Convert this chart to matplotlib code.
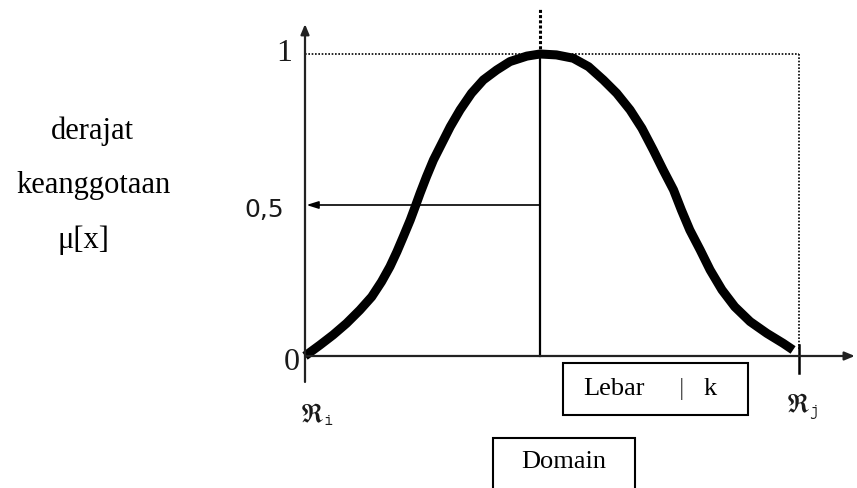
import matplotlib
matplotlib.use('Agg')
import matplotlib.pyplot as plt
from matplotlib.patches import Rectangle

# bell-shaped membership curve (domain scaled 0..1 between Ri and Rj)
x_curve = [0.0, 0.030, 0.057, 0.084, 0.111, 0.135, 0.155, 0.172, 0.186, 0.199, 0.213, 0.223,
           0.233, 0.246, 0.260, 0.277, 0.294, 0.314, 0.337, 0.361, 0.388, 0.415, 0.449, 0.476,
           0.509, 0.543, 0.574, 0.604, 0.631, 0.658, 0.682, 0.705, 0.725, 0.746, 0.762, 0.779,
           0.800, 0.820, 0.844, 0.870, 0.901, 0.935, 0.968, 0.988]
mu_curve = [0.0, 0.036, 0.070, 0.108, 0.152, 0.196, 0.246, 0.296, 0.345, 0.395, 0.450, 0.494,
            0.539, 0.594, 0.649, 0.704, 0.759, 0.815, 0.870, 0.914, 0.947, 0.975, 0.993, 1.0,
            0.997, 0.986, 0.958, 0.914, 0.870, 0.815, 0.754, 0.682, 0.616, 0.550, 0.483, 0.417,
            0.351, 0.285, 0.219, 0.163, 0.114, 0.075, 0.042, 0.020]
peak_x = 0.475
half_mu = 0.5
ytick_vals = [0, 0.5, 1]
ytick_labels = ['0', '0,5', '1']
ylabel_lines = ['derajat', 'keanggotaan', 'μ[x]']
ri_label = r'$\mathfrak{R}_{\mathtt{i}}$'
rj_label = r'$\mathfrak{R}_{\mathtt{j}}$'

serif = 'Liberation Serif'

fig = plt.figure(figsize=(8.57, 4.88), dpi=100)
ax = fig.add_axes([0, 0, 1, 1])
ax.set_xlim(-0.6174, 1.1174)
ax.set_ylim(-0.4371, 1.1788)
ax.axis('off')

# axes with arrows
ax.annotate('', xy=(0, 1.099), xytext=(0, -0.086),
            arrowprops=dict(arrowstyle='-|>,head_length=0.6,head_width=0.25', color='#222222', lw=1.6, shrinkA=0, shrinkB=0))
ax.annotate('', xy=(1.113, 0), xytext=(0, 0),
            arrowprops=dict(arrowstyle='-|>,head_length=0.6,head_width=0.25', color='#222222', lw=1.6, shrinkA=0, shrinkB=0))
ax.plot([1, 1], [0.036, -0.056], color='k', lw=1.8)

# dotted guides
ax.plot([0, 1], [1, 1], color='k', lw=1.2, linestyle=(0, (1, 1)))
ax.plot([1, 1], [1, 0.02], color='k', lw=1.2, linestyle=(0, (1, 1)))
ax.plot([peak_x, peak_x], [1, 1.152], color='k', lw=2.2, linestyle=(0, (1, 0.7)))

# solid line under peak and arrow at 0.5
ax.plot([peak_x, peak_x], [0, 1], color='k', lw=1.6)
ax.annotate('', xy=(0.003, half_mu), xytext=(peak_x, half_mu),
            arrowprops=dict(arrowstyle='-|>,head_length=0.7,head_width=0.22', color='k', lw=1.2, shrinkA=0, shrinkB=0))

ax.plot(x_curve, mu_curve, color='k', lw=6.5, solid_capstyle='butt', solid_joinstyle='round')

# tick labels
ax.text(-0.0425, ytick_vals[2], ytick_labels[2], family=serif, fontsize=23, ha='center', va='center', color='#1a1a1a')
ax.text(-0.026, ytick_vals[0] - 0.02, ytick_labels[0], family=serif, fontsize=23, ha='center', va='center', color='#1a1a1a')
ax.text(-0.083, ytick_vals[1] - 0.017, ytick_labels[1], family='DejaVu Sans', fontsize=18, ha='center', va='center', color='#1a1a1a')

# y label (three lines)
ax.text(-0.431, 0.720, ylabel_lines[0], family=serif, fontsize=22, ha='center', va='baseline')
ax.text(-0.429, 0.540, ylabel_lines[1], family=serif, fontsize=22, ha='center', va='baseline')
ax.text(-0.449, 0.358, ylabel_lines[2], family=serif, fontsize=22, ha='center', va='baseline')

# Ri, Rj
ax.text(0.024, -0.195, ri_label, fontsize=19, ha='center', va='center', math_fontfamily='stix', color='#1a1a1a')
ax.text(1.006, -0.169, rj_label, fontsize=19, ha='center', va='center', math_fontfamily='stix', color='#1a1a1a')

# boxes
ax.add_patch(Rectangle((0.522, -0.195), 0.375, 0.172, fill=False, ec='k', lw=1.5))
ax.text(0.6255, -0.11, 'Lebar', family=serif, fontsize=19, ha='center', va='center')
ax.text(0.763, -0.11, '|', family=serif, fontsize=19, ha='center', va='center', color='#555555')
ax.text(0.820, -0.11, 'k', family=serif, fontsize=19, ha='center', va='center')

ax.add_patch(Rectangle((0.381, -0.5), 0.287, 0.228, fill=False, ec='k', lw=1.5, clip_on=True))
ax.text(0.524, -0.351, 'Domain', family=serif, fontsize=19, ha='center', va='center')

fig.savefig('out.png', dpi=100)
